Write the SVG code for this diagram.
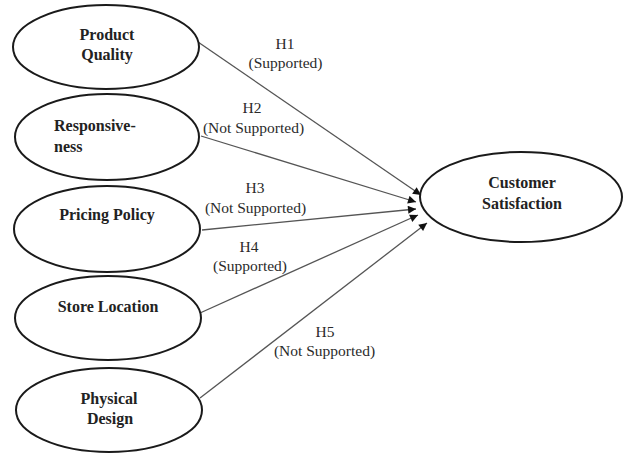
<svg xmlns="http://www.w3.org/2000/svg" width="623" height="453" viewBox="0 0 623 453">
<style>
.node ellipse{fill:#fff;stroke:#1a1a1a;stroke-width:2}
.nt{font-family:"Liberation Serif","Times New Roman",serif;font-weight:bold;font-size:16px;fill:#222}
.lt{font-family:"Liberation Serif","Times New Roman",serif;font-size:15.5px;fill:#2a2a2a;text-anchor:middle}
.edge{stroke:#555;stroke-width:1.3;fill:none;marker-end:url(#ah)}
</style>
<defs>
<marker id="ah" viewBox="0 0 10 10" refX="10" refY="5" markerWidth="10" markerHeight="8" markerUnits="userSpaceOnUse" orient="auto">
<path d="M0,0 L10,5 L0,10 z" fill="#111"/>
</marker>
</defs>
<rect width="623" height="453" fill="#fff"/>
<g id="connectors">
<line class="edge" x1="198" y1="42" x2="421" y2="195"/>
<line class="edge" x1="201" y1="136" x2="416" y2="202"/>
<line class="edge" x1="202" y1="230" x2="416" y2="209"/>
<line class="edge" x1="200" y1="313" x2="418" y2="215"/>
<line class="edge" x1="200" y1="398" x2="427" y2="223"/>
<text class="lt" x="285" y="49">H1</text>
<text class="lt" x="285.5" y="68">(Supported)</text>
<text class="lt" x="252" y="113">H2</text>
<text class="lt" x="253.5" y="133">(Not Supported)</text>
<text class="lt" x="255" y="193">H3</text>
<text class="lt" x="255.5" y="213">(Not Supported)</text>
<text class="lt" x="249" y="252">H4</text>
<text class="lt" x="250" y="271">(Supported)</text>
<text class="lt" x="325" y="337">H5</text>
<text class="lt" x="324.5" y="356">(Not Supported)</text>
</g>
<g id="product-quality" class="node">
<ellipse cx="106" cy="47" rx="93" ry="42"/>
<text class="nt" x="107" y="40" text-anchor="middle">Product</text>
<text class="nt" x="107" y="60" text-anchor="middle">Quality</text>
</g>
<g id="responsiveness" class="node">
<ellipse cx="107" cy="137" rx="92" ry="43"/>
<text class="nt" x="54" y="131">Responsive-</text>
<text class="nt" x="54" y="152">ness</text>
</g>
<g id="pricing-policy" class="node">
<ellipse cx="107" cy="229" rx="93" ry="43"/>
<text class="nt" x="107" y="220" text-anchor="middle">Pricing Policy</text>
</g>
<g id="store-location" class="node">
<ellipse cx="108" cy="318" rx="93" ry="42"/>
<text class="nt" x="108" y="312" text-anchor="middle">Store Location</text>
</g>
<g id="physical-design" class="node">
<ellipse cx="109" cy="410" rx="93" ry="42"/>
<text class="nt" x="109" y="404" text-anchor="middle">Physical</text>
<text class="nt" x="110" y="424" text-anchor="middle">Design</text>
</g>
<g id="customer-satisfaction" class="node">
<ellipse cx="521" cy="197" rx="101" ry="45"/>
<text class="nt" x="522" y="188" text-anchor="middle">Customer</text>
<text class="nt" x="522" y="209" text-anchor="middle">Satisfaction</text>
</g>
</svg>
